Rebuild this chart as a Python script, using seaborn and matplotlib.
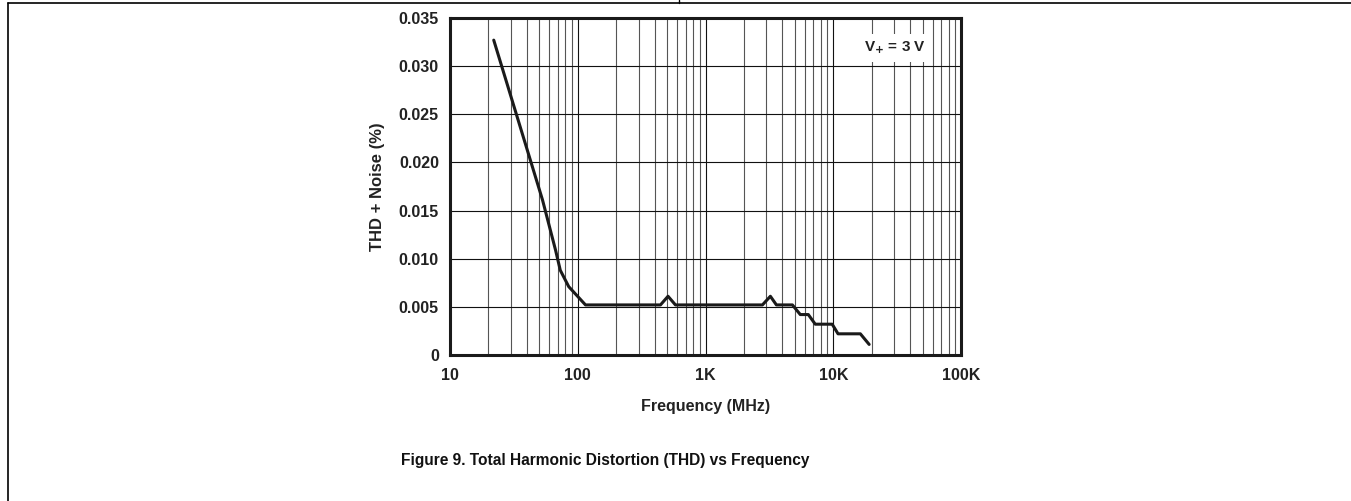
import numpy as np
import pandas as pd
import matplotlib
matplotlib.use("Agg")
import matplotlib.pyplot as plt
import seaborn as sns
from matplotlib.lines import Line2D
from matplotlib.ticker import FixedLocator, LogLocator, NullFormatter

sns.set_theme(style="white")
plt.rcParams["font.family"] = ["Liberation Sans", "DejaVu Sans"]
plt.rcParams["font.weight"] = "bold"

# THD + noise curve
freq = [22, 53, 67, 73, 85, 115, 444, 509, 582, 2790, 3220, 3590,
        4790, 5520, 6380, 7230, 9810, 10900, 16300, 19100]
thd = [0.0327, 0.0161, 0.0109, 0.0088, 0.0071, 0.0052, 0.0052, 0.0061, 0.0052, 0.0052, 0.0061, 0.0052,
       0.0052, 0.0042, 0.0042, 0.0032, 0.0032, 0.0022, 0.0022, 0.0011]

x_ticks = [10, 100, 1000, 10000, 100000]
x_labels = ["10", "100", "1K", "10K", "100K"]
y_ticks = [0, 0.005, 0.010, 0.015, 0.020, 0.025, 0.030, 0.035]
y_labels = ["0", "0.005", "0.010", "0.015", "0.020", "0.025", "0.030", "0.035"]

df = pd.DataFrame({"freq": freq, "thd": thd})

fig = plt.figure(figsize=(13.51, 5.01), dpi=100)
ax = fig.add_axes([450 / 1351, 1 - 355 / 501, 511 / 1351, 337 / 501])

sns.lineplot(data=df, x="freq", y="thd", color="#1a1a1a", linewidth=2.2, ax=ax, zorder=5)

ax.set_xscale("log")
ax.set_xlim(10, 100000)
ax.set_ylim(0, 0.035)
ax.xaxis.set_major_locator(FixedLocator(x_ticks))
ax.set_xticklabels(x_labels)
ax.xaxis.set_minor_locator(LogLocator(base=10, subs=np.arange(2, 10)))
ax.xaxis.set_minor_formatter(NullFormatter())
ax.set_yticks(y_ticks)
ax.set_yticklabels(y_labels)

ax.grid(True, which="major", axis="both", color="#111111", linewidth=0.8)
ax.grid(True, which="minor", axis="x", color="#555555", linewidth=0.8)
ax.tick_params(axis="both", which="both", length=0, labelsize=11.5, colors="#222222")
ax.tick_params(axis="y", pad=8)
ax.tick_params(axis="x", pad=9)
for s in ax.spines.values():
    s.set_linewidth(2.2)
    s.set_color("#1a1a1a")

ax.set_xlabel("Frequency (MHz)", fontsize=11.5, fontweight="bold", color="#222222", labelpad=12)
ax.set_ylabel("THD + Noise (%)", fontsize=12, fontweight="bold", color="#222222", labelpad=10)

ax.text(0.87, 0.912, r"V$_{\mathbf{+}}$ = 3 V", transform=ax.transAxes, ha="center", va="center",
        fontsize=11, fontweight="bold", color="#222222", zorder=6,
        bbox=dict(facecolor="white", edgecolor="none", pad=4))

fig.text(605 / 1351, 1 - 460 / 501, "Figure 9. Total Harmonic Distortion (THD) vs Frequency",
         ha="center", va="center", fontsize=11.2, fontweight="bold", color="#111111")

# page frame lines
fig.add_artist(Line2D([8 / 1351, 1], [1 - 3 / 501, 1 - 3 / 501], color="black", linewidth=1.2))
fig.add_artist(Line2D([8 / 1351, 8 / 1351], [0, 1 - 3 / 501], color="black", linewidth=1.2))
fig.add_artist(Line2D([679 / 1351, 679 / 1351], [1 - 3 / 501, 1], color="black", linewidth=1.0))

fig.savefig("out.png", dpi=100)
